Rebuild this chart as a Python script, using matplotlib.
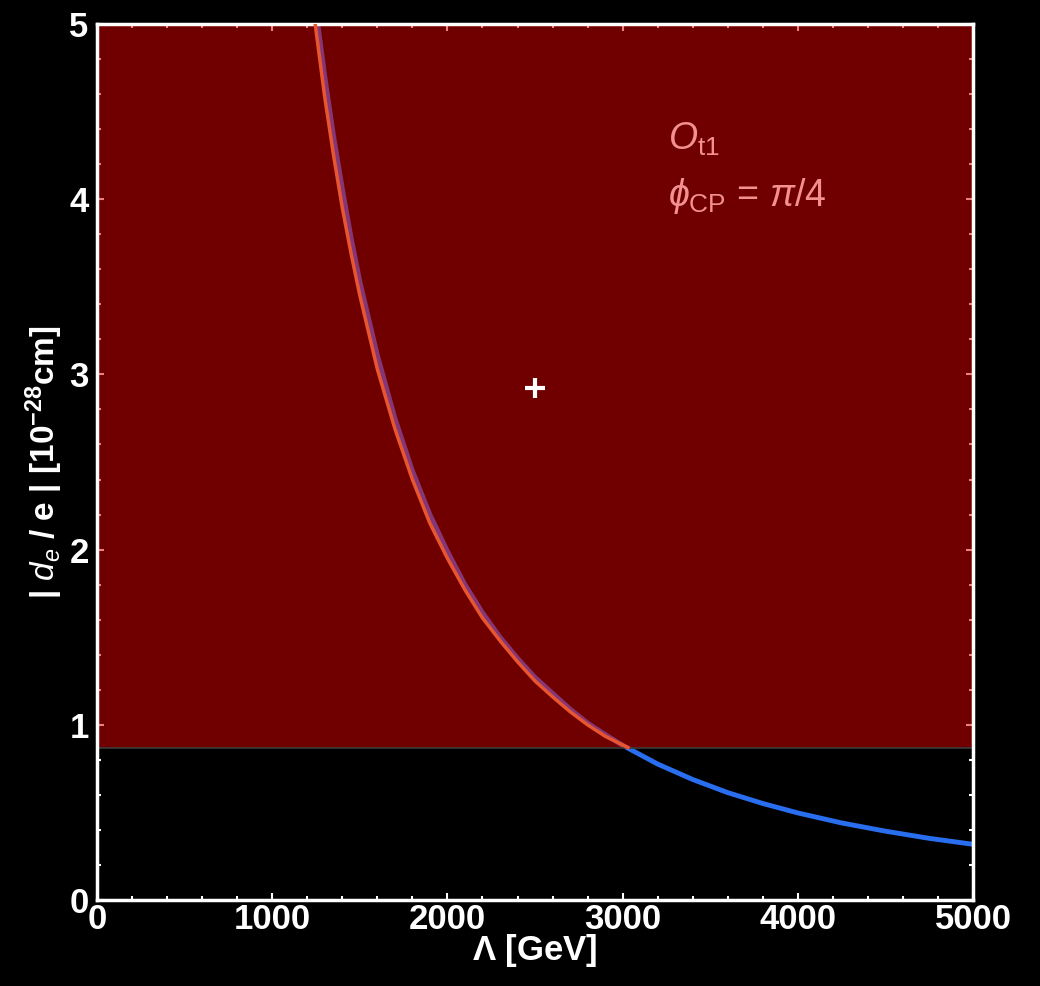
import matplotlib.pyplot as plt
from matplotlib.ticker import MultipleLocator

# values
lam_blue = [1260, 1300, 1350, 1400, 1450, 1500, 1600, 1700, 1800, 1900, 2000,
            2100, 2200, 2300, 2400, 2500, 2600, 2700, 2800, 2900, 3000,
            3200, 3400, 3600, 3800, 4000, 4250, 4500, 4750, 5000]
de_blue = [5.0, 4.70, 4.36, 4.06, 3.78, 3.53, 3.11, 2.75, 2.45, 2.20, 1.99,
           1.80, 1.64, 1.50, 1.38, 1.27, 1.18, 1.09, 1.01, 0.945, 0.883,
           0.776, 0.688, 0.613, 0.551, 0.497, 0.440, 0.393, 0.352, 0.318]

lam_orange = [1245, 1300, 1350, 1400, 1450, 1500, 1600, 1700, 1800, 1900, 2000,
              2100, 2200, 2300, 2400, 2500, 2600, 2700, 2800, 2900, 3030]
de_orange = [5.0, 4.58, 4.25, 3.95, 3.69, 3.45, 3.03, 2.69, 2.40, 2.15, 1.95,
             1.77, 1.61, 1.48, 1.36, 1.25, 1.16, 1.075, 1.00, 0.935, 0.87]

bound = 0.87          # excluded above this
bench = (2500, 2.92)  # benchmark point

plt.rcParams['font.family'] = ['Liberation Sans', 'DejaVu Sans']
plt.rcParams['mathtext.fontset'] = 'custom'
plt.rcParams['mathtext.rm'] = 'Liberation Sans'
plt.rcParams['mathtext.it'] = 'Liberation Sans:italic'
plt.rcParams['mathtext.bf'] = 'Liberation Sans:bold'

fig = plt.figure(figsize=(10.4, 9.86), dpi=100, facecolor='black')
ax = fig.add_axes([0.0933, 0.0872, 0.8423, 0.8885], facecolor='black')

# blue curve under the excluded region, orange boundary on top
ax.plot(lam_blue, de_blue, color='#2a6ef0', lw=3.5, zorder=1, solid_capstyle='butt')
ax.fill_between([0, 5000], bound, 5, color='#e00000', alpha=0.5, lw=0, zorder=2)
ax.axhline(bound, color='#3a3a3a', lw=1.2, zorder=2)
ax.plot(lam_orange, de_orange, color='#e8552e', lw=2.5, zorder=3)

ax.plot(*bench, marker='+', color='white', ms=15, mew=3, zorder=4)

ax.text(3260, 4.34, r'$O_{\mathrm{t1}}$', color='#f39090', fontsize=27, va='center')
ax.text(3260, 4.02, r'$\phi_{\mathrm{CP}}$ = $\pi$/4', color='#f39090', fontsize=27,
        va='center')

ax.set_xlim(0, 5000)
ax.set_ylim(0, 5)
ax.xaxis.set_major_locator(MultipleLocator(1000))
ax.xaxis.set_minor_locator(MultipleLocator(200))
ax.yaxis.set_major_locator(MultipleLocator(1))
ax.yaxis.set_minor_locator(MultipleLocator(0.2))
ax.tick_params(which='both', direction='in', colors='white', top=True, right=True,
               labelsize=25, width=1.5)
ax.tick_params(axis='x', pad=2)
ax.tick_params(axis='y', pad=6)
ax.tick_params(which='major', length=5)
ax.tick_params(which='minor', length=3)
for lbl in ax.get_xticklabels() + ax.get_yticklabels():
    lbl.set_fontweight('bold')
for sp in ax.spines.values():
    sp.set_color('white')
    sp.set_linewidth(2.5)

ax.set_xlabel(r'$\mathbf{\Lambda}$ [GeV]', color='white', fontsize=25,
              fontweight='bold', labelpad=-3)
ax.set_ylabel(r'| $\boldsymbol{d_e}$ / e | [10$^{\mathbf{-28}}$cm]', color='white',
              fontsize=24, fontweight='bold', labelpad=3)

fig.savefig('out.png', dpi=100, facecolor='black')
